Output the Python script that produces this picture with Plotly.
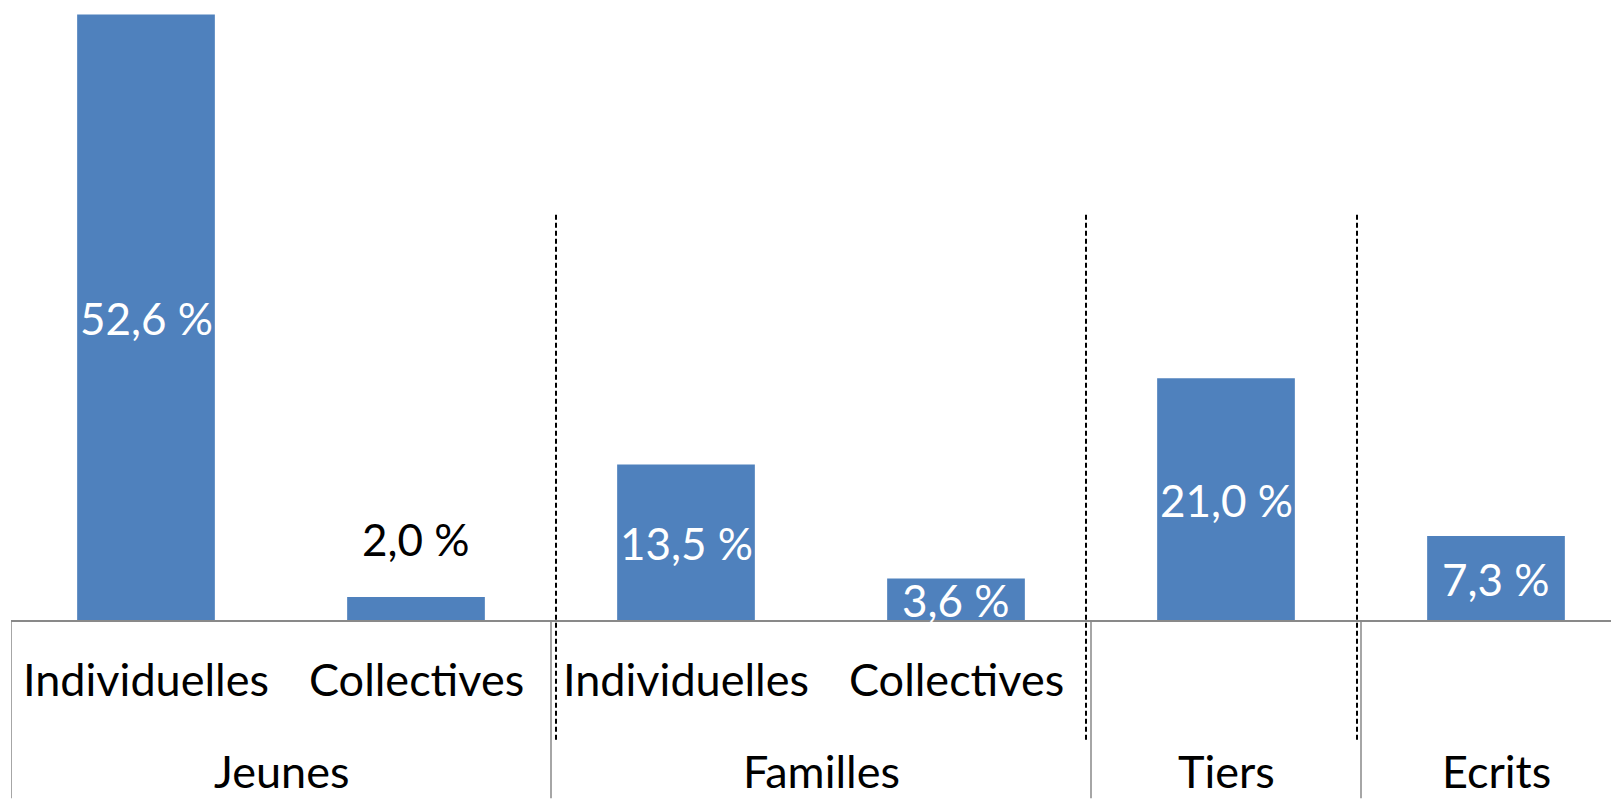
import plotly.graph_objects as go

# ---- data ----
groups = ["Jeunes", "Jeunes", "Familles", "Familles", "Tiers", "Ecrits"]
subcats = ["Individuelles", "Collectives", "Individuelles", "Collectives", "", ""]
values = [52.6, 2.0, 13.5, 3.6, 21.0, 7.3]
value_labels = ["52,6 %", "2,0 %", "13,5 %", "3,6 %", "21,0 %", "7,3 %"]
group_names = ["Jeunes", "Familles", "Tiers", "Ecrits"]

# ---- layout constants (page body has an 8px margin) ----
W, H = 1611, 791
ML, MR, MT = 3, 0, 0
BASE_Y = 612.5              # baseline in figure pixels
MB = H - BASE_Y
PLOT_H = BASE_Y - MT
PX_PER_CAT = 270.0
PX_PER_UNIT = 11.52
FONT = "Lato"
FS_VAL = 44
FS_CAT = 45
BAR_COLOR = "#4F81BD"
AXIS_COLOR = "#898989"
label_outside = [False, True, False, False, False, False]

x = list(range(len(values)))
x_max = -0.5 + (W - ML - MR) / PX_PER_CAT
y_max = PLOT_H / PX_PER_UNIT

fig = go.Figure()
fig.add_trace(go.Bar(
    x=x, y=values, width=0.51,
    marker=dict(color=BAR_COLOR, line=dict(width=0)),
    hoverinfo="skip",
))

annotations = []
for xi, v, lab, out in zip(x, values, value_labels, label_outside):
    if out:
        annotations.append(dict(x=xi, y=v, xref="x", yref="y", text=lab, showarrow=False,
                                yanchor="middle", yshift=58,
                                font=dict(family=FONT, size=FS_VAL, color="black")))
    else:
        annotations.append(dict(x=xi, y=v / 2, xref="x", yref="y", text=lab, showarrow=False,
                                yanchor="middle", yshift=-1,
                                font=dict(family=FONT, size=FS_VAL, color="white")))

for xi, s in zip(x, subcats):
    if s:
        annotations.append(dict(x=xi, y=0, xref="x", yref="paper", text=s, showarrow=False,
                                yanchor="middle", yshift=-59,
                                font=dict(family=FONT, size=FS_CAT, color="black")))

shapes = []
bounds = []
for g in group_names:
    idx = [i for i, gg in enumerate(groups) if gg == g]
    lo, hi = min(idx) - 0.5, max(idx) + 0.5
    bounds.append((lo, hi))
    annotations.append(dict(x=(lo + hi) / 2, y=0, xref="x", yref="paper", text=g, showarrow=False,
                            yanchor="middle", yshift=-151,
                            font=dict(family=FONT, size=FS_CAT, color="black")))

for lo, hi in bounds:
    shapes.append(dict(type="line", xref="x", yref="paper", x0=lo, x1=lo,
                       y0=0, y1=-MB / PLOT_H, line=dict(color=AXIS_COLOR, width=1.5)))

dash_offsets = [5, -5, -4]
for (lo, hi), off in zip(bounds[1:], dash_offsets):
    shapes.append(dict(type="line", xref="x", yref="paper", xsizemode="pixel", xanchor=lo,
                       x0=off, x1=off, y0=(BASE_Y - 207) / PLOT_H, y1=(BASE_Y - 735) / PLOT_H,
                       line=dict(color="black", width=2, dash="5px,3px")))

fig.update_layout(
    width=W, height=H,
    margin=dict(l=ML, r=MR, t=MT, b=MB, pad=0),
    paper_bgcolor="white", plot_bgcolor="white",
    showlegend=False,
    annotations=annotations,
    shapes=shapes,
    xaxis=dict(range=[-0.5, x_max], showticklabels=False, ticks="", showgrid=False,
               zeroline=False, showline=True, linecolor=AXIS_COLOR, linewidth=1.5,
               fixedrange=True),
    yaxis=dict(range=[0, y_max], visible=False, showgrid=False, zeroline=False, fixedrange=True),
)

fig.write_html("out.html")
